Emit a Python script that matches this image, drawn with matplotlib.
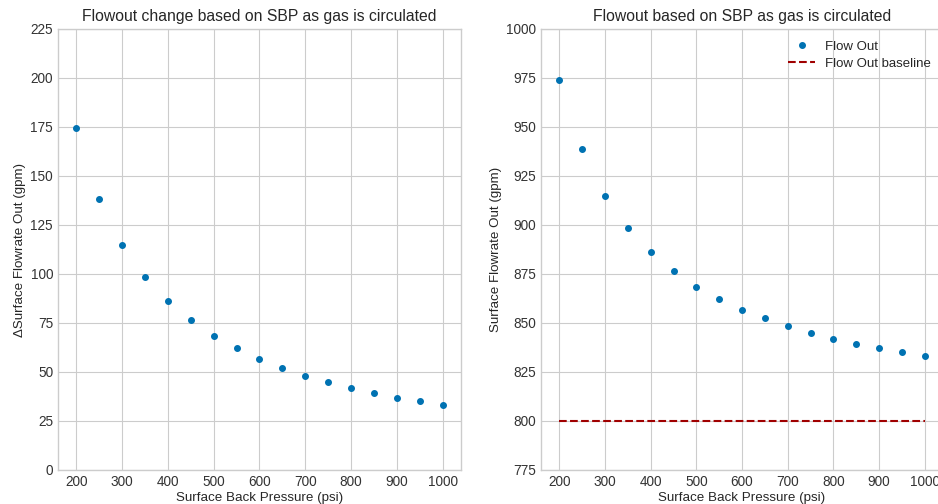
import matplotlib
matplotlib.use("Agg")
import matplotlib.pyplot as plt

sbp = [200, 250, 300, 350, 400, 450, 500, 550, 600, 650, 700, 750, 800, 850, 900, 950, 1000]
delta_flow = [174.5, 138.5, 115.0, 98.5, 86.0, 76.3, 68.5, 62.0, 56.8, 52.0, 48.0, 45.0, 42.0, 39.2, 36.8, 35.0, 33.0]
flow_out = [974.0, 939.0, 915.0, 898.5, 886.0, 876.3, 868.5, 862.0, 856.8, 852.3, 848.3, 845.0, 842.0, 839.5, 837.0, 835.0, 833.0]
baseline = [800.0] * len(sbp)

plt.style.use("seaborn-v0_8-whitegrid")
plt.rcParams['font.family'] = ['Liberation Sans', 'DejaVu Sans']

blue = "#0072B2"
red = "#A00000"

fig = plt.figure(figsize=(9.38, 5.04), dpi=100)
ax1 = fig.add_axes([0.0618, 0.0675, 0.4296, 0.875])
ax2 = fig.add_axes([0.5768, 0.0675, 0.4286, 0.875])

# left: change in flow out
ax1.plot(sbp, delta_flow, 'o', color=blue, markersize=4)
ax1.set_ylim(0, 225)
ax1.set_yticks(range(0, 226, 25))
ax1.set_xticks(range(200, 1001, 100))
ax1.set_title("Flowout change based on SBP as gas is circulated", fontsize=11.3)
ax1.set_xlabel("Surface Back Pressure (psi)", fontsize=9.6, labelpad=2)
ax1.set_ylabel("\u0394Surface Flowrate Out (gpm)", fontsize=9.6, labelpad=3)

# right: absolute flow out with baseline
ax2.plot(sbp, flow_out, 'o', color=blue, markersize=4, label="Flow Out")
ax2.plot(sbp, baseline, '--', color=red, linewidth=1.5, label="Flow Out baseline")
ax2.set_ylim(775, 1000)
ax2.set_yticks(range(775, 1001, 25))
ax2.set_xticks(range(200, 1001, 100))
ax2.set_title("Flowout based on SBP as gas is circulated", fontsize=11.3)
ax2.set_xlabel("Surface Back Pressure (psi)", fontsize=9.6, labelpad=2)
ax2.set_ylabel("Surface Flowrate Out (gpm)", fontsize=9.6, labelpad=3)
ax2.legend(loc="upper right", fontsize=9.5, labelspacing=0.35)

for ax in (ax1, ax2):
    ax.tick_params(labelsize=9.8, colors="#333333")
    for s in ax.spines.values():
        s.set_edgecolor("#cccccc")

fig.savefig("out.png", dpi=100)
